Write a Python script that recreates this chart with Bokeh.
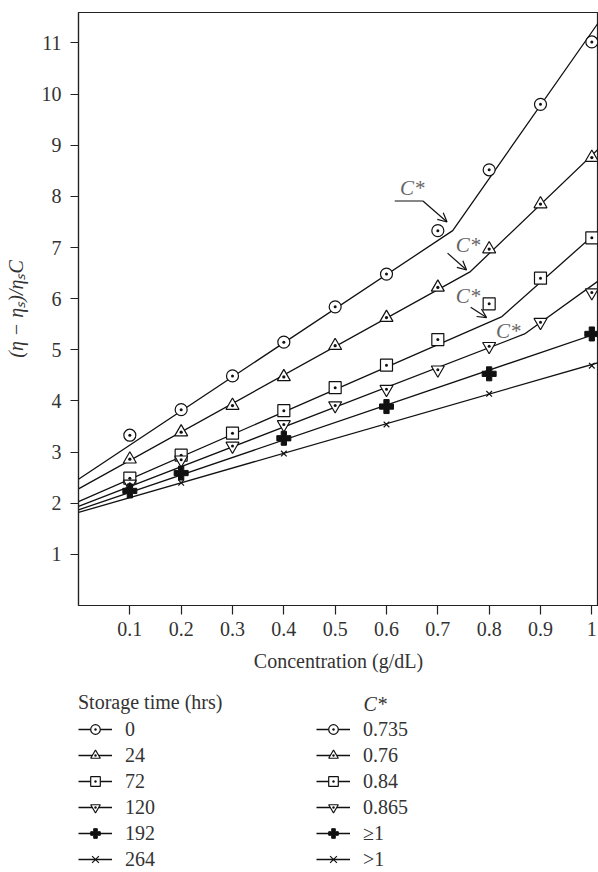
from bokeh.plotting import figure
from bokeh.layouts import column
from bokeh.models import (Range1d, FixedTicker, CustomJSTickFormatter, Legend,
                          LegendItem, Label, Arrow, OpenHead)
from bokeh.core.properties import value
from bokeh.embed import file_html
from bokeh.resources import INLINE

# ---------------- data ----------------
conc = [0.1, 0.2, 0.3, 0.4, 0.5, 0.6, 0.7, 0.8, 0.9, 1.0]
y_0h = [3.33, 3.83, 4.49, 5.15, 5.84, 6.48, 7.33, 8.52, 9.80, 11.02]
y_24h = [2.86, 3.39, 3.91, 4.47, 5.08, 5.63, 6.22, 6.97, 7.85, 8.76]
y_72h = [2.49, 2.94, 3.37, 3.81, 4.26, 4.70, 5.20, 5.90, 6.40, 7.19]
y_120h = [2.38, 2.85, 3.12, 3.54, 3.91, 4.23, 4.61, 5.07, 5.54, 6.12]
conc_192 = [0.1, 0.2, 0.4, 0.6, 0.8, 1.0]
y_192h = [2.24, 2.59, 3.27, 3.89, 4.53, 5.31]
conc_264 = [0.2, 0.4, 0.6, 0.8, 1.0]
y_264h = [2.40, 2.97, 3.54, 4.14, 4.69]

# fitted lines (intercept, break at C*, end of axis)
fit_x_0h = [0.0, 0.729, 1.013]
fit_y_0h = [2.47, 7.33, 11.40]
fit_x_24h = [0.0, 0.7635, 1.013]
fit_y_24h = [2.28, 6.53, 8.93]
fit_x_72h = [0.0, 0.825, 1.013]
fit_y_72h = [2.03, 5.65, 7.33]
fit_x_120h = [0.0, 0.869, 1.013]
fit_y_120h = [1.94, 5.31, 6.35]
fit_x_192h = [0.0, 1.013]
fit_y_192h = [1.87, 5.33]
fit_x_264h = [0.0, 1.013]
fit_y_264h = [1.82, 4.75]

storage_labels = ["0", "24", "72", "120", "192", "264"]
cstar_labels = ["0.735", "0.76", "0.84", "0.865", "\u22651", ">1"]

x_ticks = [0.1, 0.2, 0.3, 0.4, 0.5, 0.6, 0.7, 0.8, 0.9, 1.0]
y_ticks = [1, 2, 3, 4, 5, 6, 7, 8, 9, 10, 11]

# C* annotations (text position, arrow start, arrow end) in data units
cstar_text_x = [0.650, 0.759, 0.759, 0.837]
cstar_text_y = [8.16, 7.04, 6.05, 5.36]
arrow_x0 = [0.671, 0.719, 0.764]
arrow_y0 = [7.91, 6.89, 5.83]
arrow_x1 = [0.718, 0.756, 0.795]
arrow_y1 = [7.50, 6.56, 5.63]
tail_x = [0.616, 0.671]
tail_y = [7.91, 7.91]

FONT = "Liberation Serif"
TXT = "#333333"
INK = "#111111"

MAIN_H = 685
p = figure(width=598, height=MAIN_H, output_backend="svg", toolbar_location=None,
           x_range=Range1d(0, 1.013), y_range=Range1d(0, 11.596),
           min_border_left=78, min_border_right=0, min_border_top=12,
           min_border_bottom=MAIN_H - 605)
p.background_fill_color = "white"
p.border_fill_color = "white"
p.outline_line_color = "#222222"
p.outline_line_width = 1.2
p.xgrid.visible = False
p.ygrid.visible = False

for ax in (p.xaxis[0], p.yaxis[0]):
    ax.axis_line_color = "#222222"
    ax.axis_line_width = 1.2
    ax.major_tick_line_color = "#222222"
    ax.major_tick_line_width = 1.2
    ax.major_tick_in = 0
    ax.minor_tick_line_color = None
    ax.major_label_text_font = FONT
    ax.major_label_text_font_size = "20px"
    ax.major_label_text_color = TXT
    ax.axis_label_text_font = FONT
    ax.axis_label_text_font_size = "20px"
    ax.axis_label_text_color = TXT
    ax.axis_label_text_font_style = "normal"

p.xaxis.ticker = FixedTicker(ticks=x_ticks)
p.xaxis.formatter = CustomJSTickFormatter(code="return String(Math.round(tick*10)/10);")
p.xaxis.major_tick_out = 9
p.xaxis.major_label_standoff = 7
p.xaxis.axis_label = "Concentration (g/dL)"
p.xaxis.axis_label_standoff = 11

p.yaxis.ticker = FixedTicker(ticks=y_ticks)
p.yaxis.major_tick_out = 8
p.yaxis.major_label_standoff = 9
p.yaxis.axis_label = "(\u03b7 \u2212 \u03b7\u209b)/\u03b7\u209bC"
p.yaxis.axis_label_text_font_style = "italic"
p.yaxis.axis_label_standoff = 12

lw = 1.3
mk = dict(line_color=INK, line_width=1.2)


def draw_series(fig):
    l0 = fig.line(fit_x_0h, fit_y_0h, line_color=INK, line_width=lw)
    l24 = fig.line(fit_x_24h, fit_y_24h, line_color=INK, line_width=lw)
    l72 = fig.line(fit_x_72h, fit_y_72h, line_color=INK, line_width=lw)
    l120 = fig.line(fit_x_120h, fit_y_120h, line_color=INK, line_width=lw)
    l192 = fig.line(fit_x_192h, fit_y_192h, line_color=INK, line_width=lw)
    l264 = fig.line(fit_x_264h, fit_y_264h, line_color=INK, line_width=lw)
    m0 = fig.scatter(conc, y_0h, marker="circle_dot", size=12, fill_color="white", **mk)
    m24 = fig.scatter(conc, y_24h, marker="triangle_dot", size=13, fill_color="white", **mk)
    m72 = fig.scatter(conc, y_72h, marker="square_dot", size=12, fill_color="white", **mk)
    m120 = fig.scatter(conc, y_120h, marker="inverted_triangle", size=13,
                       fill_color="white", **mk)
    m120d = fig.scatter(conc, y_120h, marker="dot", size=12, **mk)
    m192 = fig.scatter(conc_192, y_192h, marker="plus", size=14, fill_color=INK,
                       line_color=INK, line_width=1)
    m264 = fig.scatter(conc_264, y_264h, marker="x", size=8, **mk)
    return [[l0, m0], [l24, m24], [l72, m72], [l120, m120, m120d],
            [l192, m192], [l264, m264]]


draw_series(p)

# C* annotations
p.text(cstar_text_x, cstar_text_y, text=["C*"] * 4, text_font=value(FONT),
       text_font_size="21px", text_font_style="italic", text_color="#666666",
       text_align="center", text_baseline="middle")
p.line(tail_x, tail_y, line_color=INK, line_width=1.2)
for i in range(len(arrow_x0)):
    p.add_layout(Arrow(end=OpenHead(size=9, line_width=1.2, line_color=INK),
                       x_start=arrow_x0[i], y_start=arrow_y0[i],
                       x_end=arrow_x1[i], y_end=arrow_y1[i],
                       line_color=INK, line_width=1.2))

# ---------------- legend panel ----------------
LEG_H = 872 - MAIN_H
lf = figure(width=598, height=LEG_H, output_backend="svg", toolbar_location=None,
            x_axis_type=None, y_axis_type=None,
            x_range=Range1d(0, 1), y_range=Range1d(-30, -29), min_border=0)
lf.outline_line_color = None
lf.background_fill_color = "white"
lf.border_fill_color = "white"
proxies = draw_series(lf)  # drawn outside the visible range, used only as legend glyphs


def make_legend(labels, title, loc):
    kw = dict(items=[LegendItem(label=lab, renderers=r) for lab, r in zip(labels, proxies)],
              location=loc, orientation="vertical",
              glyph_width=34, glyph_height=24, label_height=24,
              label_standoff=13, spacing=2, padding=0, margin=0,
              border_line_color=None, background_fill_alpha=0,
              label_text_font=FONT, label_text_font_size="20px",
              label_text_color=TXT)
    if title:
        kw.update(title=title, title_text_font=FONT, title_text_font_size="20px",
                  title_text_font_style="normal", title_text_color=TXT,
                  title_standoff=3)
    return Legend(**kw)


lf.add_layout(make_legend(storage_labels, "Storage time (hrs)", (0, 1)))
lf.add_layout(make_legend(cstar_labels, None, (238, 1)))
lf.add_layout(Label(x=285, y=LEG_H - 18, x_units="screen", y_units="screen", text="C*",
                    text_font=FONT, text_font_size="20px", text_font_style="italic",
                    text_color=TXT, text_baseline="middle", text_align="left"))

layout = column(p, lf, spacing=0)
open("out.html", "w").write(file_html(layout, INLINE))
